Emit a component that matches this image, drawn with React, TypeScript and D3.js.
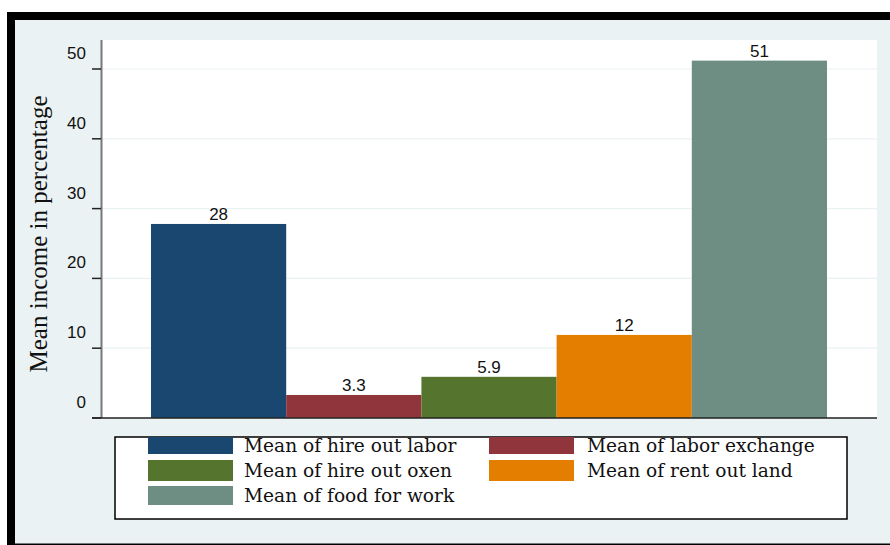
import React from "react";
import * as d3 from "d3";

const categories = [
  "Mean of hire out labor",
  "Mean of labor exchange",
  "Mean of hire out oxen",
  "Mean of rent out land",
  "Mean of food for work",
];
const values = [27.8, 3.3, 5.9, 11.9, 51.2];
const colors = ["#1a476f", "#90353b", "#55752f", "#e37e00", "#6e8e84"];
const yTicks = [0, 10, 20, 30, 40, 50];
const yTitle = "Mean income in percentage";

const W = 890;
const H = 545;
const plot = { left: 101, right: 877, top: 40, bottom: 418 };

export default function App() {
  const y = d3.scaleLinear().domain([0, 50]).range([418, 69]);
  const x = d3
    .scaleBand<number>()
    .domain(d3.range(categories.length))
    .range([151, 827])
    .paddingInner(0)
    .paddingOuter(0);
  const fmt = d3.format(".2r");
  const legendCols = [148, 489];
  const legendRows = [437, 460, 486];
  const legendTextX = [244, 587];

  return (
    <svg
      width={W}
      height={H}
      style={{ position: "fixed", left: 0, top: 0 }}
      xmlns="http://www.w3.org/2000/svg"
    >
      <rect x={0} y={0} width={W} height={H} fill="#ffffff" />
      <rect x={15} y={20} width={W - 15} height={524} fill="#eaf2f3" />
      {/* outer frame */}
      <rect x={7} y={12} width={W - 7} height={8} fill="#000" />
      <rect x={7} y={12} width={8} height={H - 12} fill="#000" />
      <rect x={7} y={543.5} width={W - 7} height={1.5} fill="#000" />

      {/* plot area */}
      <rect
        x={plot.left}
        y={plot.top}
        width={plot.right - plot.left}
        height={plot.bottom - plot.top}
        fill="#ffffff"
      />
      {yTicks.map((t) =>
        t === 0 ? null : (
          <line
            key={"g" + t}
            x1={plot.left}
            x2={plot.right}
            y1={y(t)}
            y2={y(t)}
            stroke="#eaf2f3"
            strokeWidth={1.2}
          />
        )
      )}

      {/* bars */}
      {values.map((v, i) => (
        <g key={"b" + i}>
          <rect
            x={x(i)!}
            y={y(v)}
            width={x.bandwidth()}
            height={y(0) - y(v)}
            fill={colors[i]}
          />
          <text
            x={x(i)! + x.bandwidth() / 2}
            y={y(v) - 4}
            textAnchor="middle"
            fontFamily="Liberation Sans, Arial, sans-serif"
            fontSize={17}
            fill="#111"
          >
            {fmt(v)}
          </text>
        </g>
      ))}

      {/* y axis */}
      <line x1={101.5} x2={101.5} y1={plot.top} y2={plot.bottom} stroke="#777" strokeWidth={2} />
      <line x1={92} x2={plot.right} y1={418} y2={418} stroke="#222" strokeWidth={1.5} />
      {yTicks.map((t) => (
        <g key={"t" + t}>
          <line x1={92} x2={101} y1={y(t)} y2={y(t)} stroke="#222" strokeWidth={1.5} />
          <text
            x={86}
            y={Math.min(y(t) - 16, 408)}
            dy="0.35em"
            textAnchor="end"
            fontFamily="Liberation Sans, Arial, sans-serif"
            fontSize={17}
            fill="#111"
          >
            {t}
          </text>
        </g>
      ))}
      <text
        transform="translate(47,234) rotate(-90)"
        textAnchor="middle"
        fontFamily="Liberation Serif, Times New Roman, serif"
        fontSize={25}
        fill="#111"
      >
        {yTitle}
      </text>

      {/* legend */}
      <rect x={115} y={437} width={732} height={82} fill="#fff" stroke="#000" strokeWidth={1.5} />
      {categories.map((c, i) => {
        const col = i % 2;
        const row = Math.floor(i / 2);
        const rowH = [17, 21, 19][row];
        return (
          <g key={"l" + i}>
            <rect
              x={legendCols[col]}
              y={legendRows[row]}
              width={85}
              height={rowH}
              fill={colors[i]}
            />
            <text
              x={legendTextX[col]}
              y={legendRows[row] + rowH / 2}
              dy="0.36em"
              fontFamily="DejaVu Serif, serif"
              fontSize={18.6}
              fill="#111"
            >
              {c}
            </text>
          </g>
        );
      })}
    </svg>
  );
}
